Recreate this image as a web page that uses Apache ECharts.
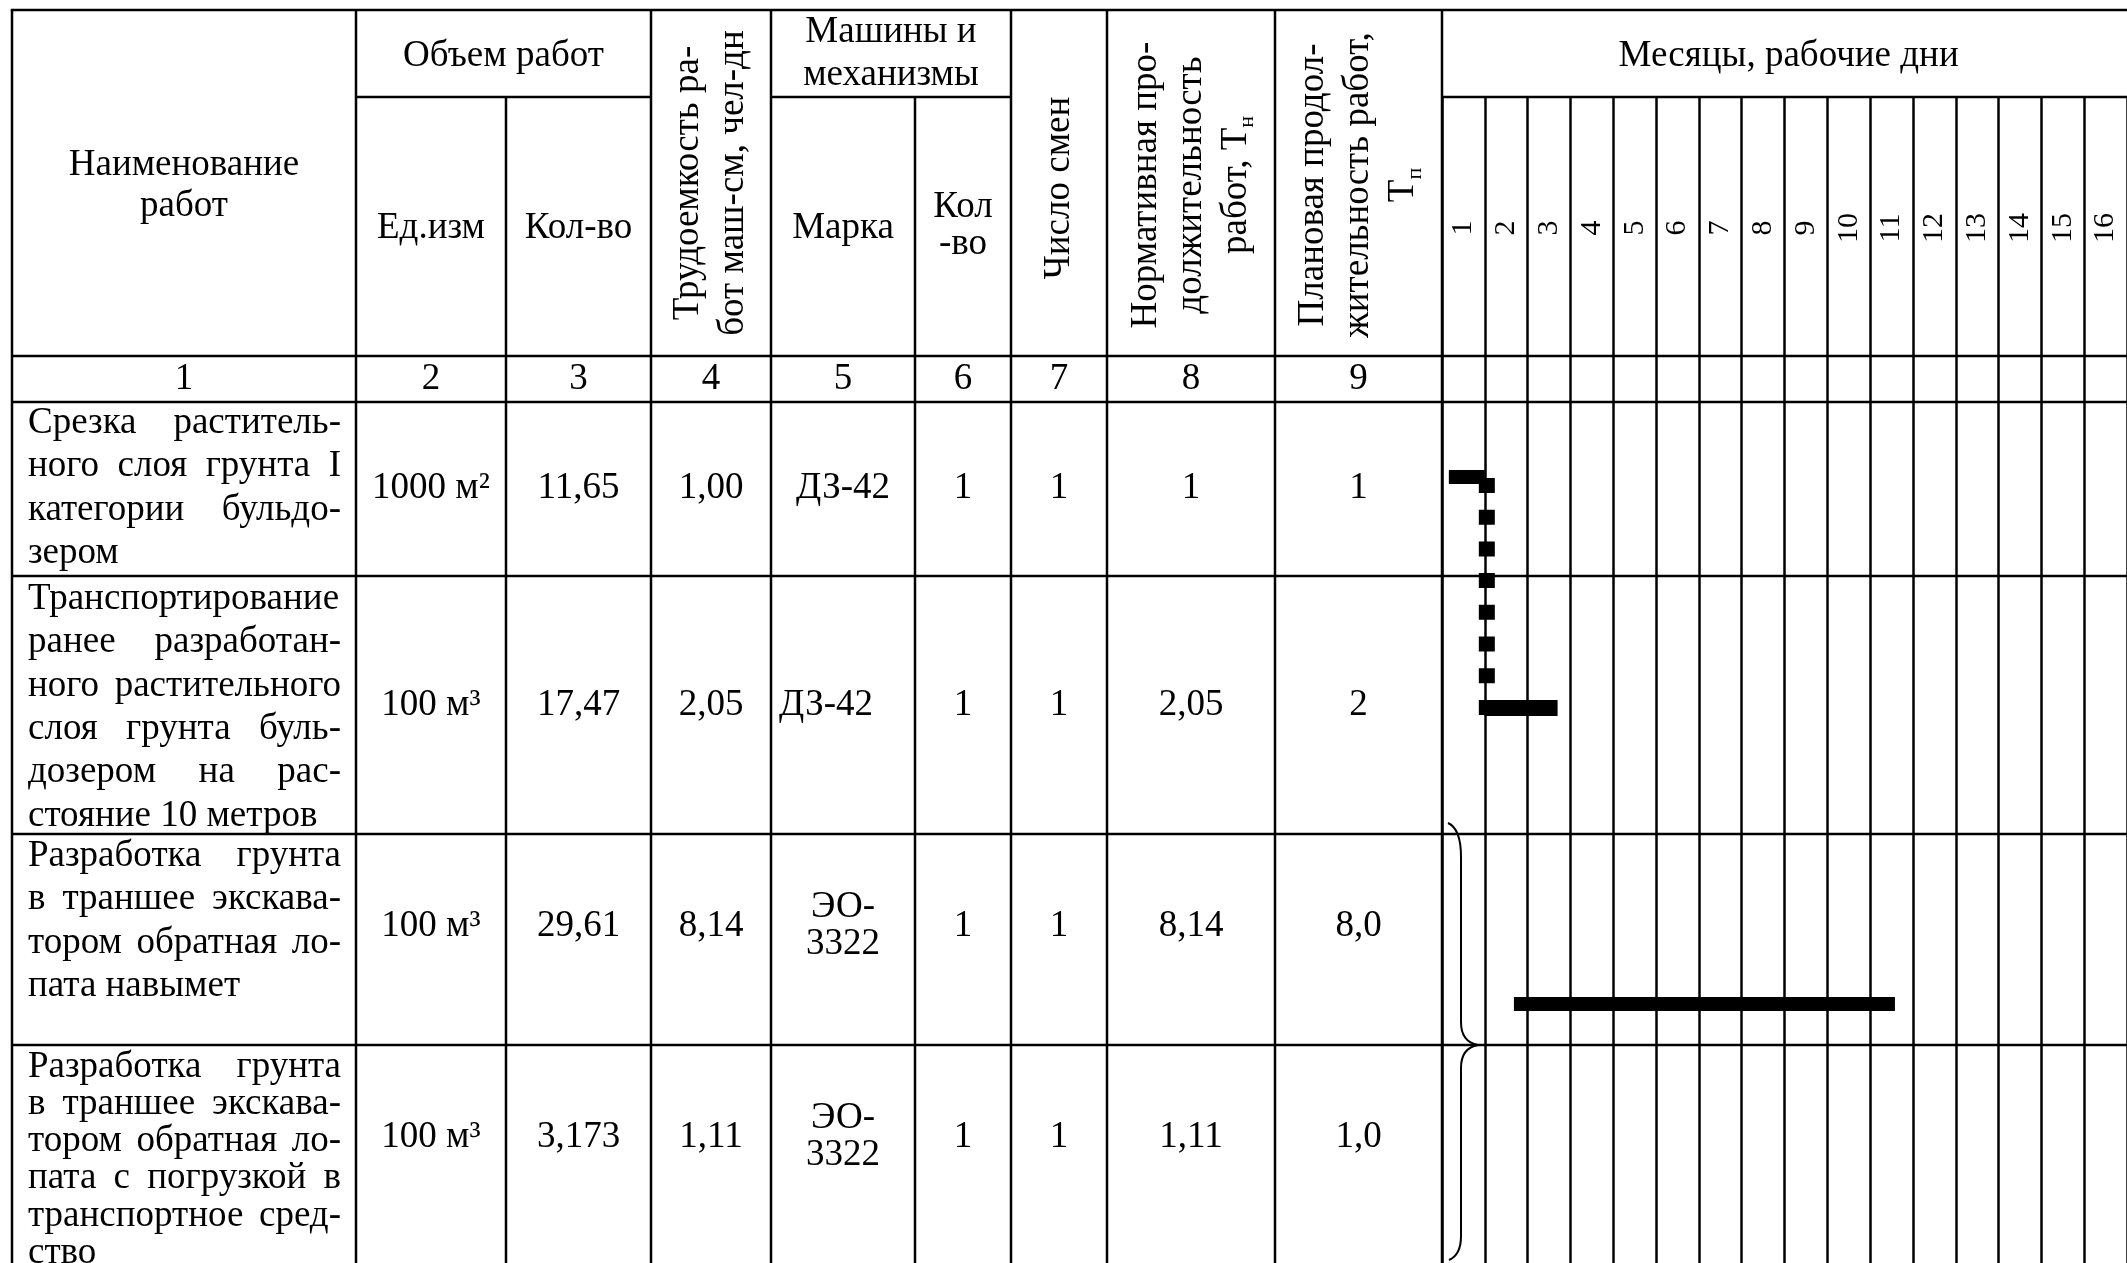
<!DOCTYPE html>
<html><head><meta charset="utf-8">
<script src="https://cdn.jsdelivr.net/npm/echarts@6/dist/echarts.min.js"></script>
<style>html,body{margin:0;padding:0;background:#fff}#c{width:2127px;height:1263px}</style>
</head><body><div id="c"></div>
<script>
// ================= DATA =================
const workNames = [
  ['Срезка раститель-', 'ного слоя грунта I', 'категории бульдо-', 'зером'],
  ['Транспортирование', 'ранее разработан-', 'ного растительного', 'слоя грунта буль-', 'дозером на рас-', 'стояние 10 метров'],
  ['Разработка грунта', 'в траншее экскава-', 'тором обратная ло-', 'пата навымет'],
  ['Разработка грунта', 'в траншее экскава-', 'тором обратная ло-', 'пата с погрузкой в', 'транспортное сред-', 'ство']
];
const units = ['1000 м²', '100 м³', '100 м³', '100 м³'];
const quantities = ['11,65', '17,47', '29,61', '3,173'];
const laborIntensity = ['1,00', '2,05', '8,14', '1,11'];
const machineBrand = ['ДЗ-42', 'ДЗ-42', 'ЭО-\n3322', 'ЭО-\n3322'];
const machineCount = ['1', '1', '1', '1'];
const shiftCount = ['1', '1', '1', '1'];
const normDuration = ['1', '2,05', '8,14', '1,11'];
const planDuration = ['1', '2', '8,0', '1,0'];
const columnNumbers = ['1', '2', '3', '4', '5', '6', '7', '8', '9'];
const dayLabels = ['1','2','3','4','5','6','7','8','9','10','11','12','13','14','15','16'];
// Gantt tasks (row index, start day, end day on the day scale)
const ganttRow = [0, 1, 2];
const ganttStart = [0.16, 1.0, 1.68];
const ganttEnd = [1.0, 2.7, 10.58];
// dotted link: at day, from task row to task row
const linkDay = [1.0];
const linkFrom = [0];
const linkTo = [1];

// ================= LAYOUT =================
const FONT = '"Liberation Serif", "Times New Roman", serif';
const FS = 37;
const LW = 2.5;
const colX = [12, 356, 506, 651, 771, 915, 1011, 1107, 1275, 1442];
const yTop = 10, ySub = 97, yHead = 356, yNum = 402;
const rowTop = [402, 576, 834, 1045];
const tableBottom = 1263;
const valueCenterY = [488, 705, 926, 1137];
const nameFirst = [423, 599, 856, 1067];
const nameGap = [43.4, 43.4, 43.4, 37.2];
const nameX0 = 28, nameX1 = 341;
const brandShift = [0, -17, 0, 0];
const barCenterY = [477, 708, 1004];
const barH = [14, 16, 14];
const gridLeft = 1442, dayW = 43.33, nDays = 16;
const gridH = tableBottom - ySub;

const chart = echarts.init(document.getElementById('c'), null, {renderer: 'canvas'});

function barRender(params, api) {
  const r = api.value(0);
  const yc = barCenterY[r] - ySub;
  const p0 = api.coord([api.value(1), yc]);
  const p1 = api.coord([api.value(2), yc]);
  const h = barH[r];
  return {type: 'rect', shape: {x: p0[0], y: p0[1] - h / 2, width: p1[0] - p0[0], height: h}, style: {fill: '#000'}};
}
function linkRender(params, api) {
  const t = api.value(0), a = api.value(1), b = api.value(2);
  const p0 = api.coord([t, barCenterY[a] + 1 - ySub]);
  const p1 = api.coord([t, barCenterY[b] + barH[b] / 2 - ySub]);
  return {type: 'line', shape: {x1: p0[0] + 2, y1: p0[1], x2: p1[0] + 2, y2: p1[1]},
    style: {stroke: '#000', lineWidth: 16, lineDash: [15, 16.7], lineCap: 'butt'}};
}

chart.setOption({
  animation: false,
  backgroundColor: '#fff',
  grid: {left: gridLeft, top: ySub, width: dayW * nDays, height: gridH, show: false},
  xAxis: {type: 'value', min: 0, max: nDays, interval: 1,
    axisLine: {show: false}, axisTick: {show: false}, axisLabel: {show: false},
    splitLine: {show: true, lineStyle: {color: '#000', width: LW}}},
  yAxis: {type: 'value', min: 0, max: gridH, inverse: true,
    axisLine: {show: false}, axisTick: {show: false}, axisLabel: {show: false}, splitLine: {show: false}},
  series: [
    {type: 'custom', renderItem: barRender, z: 5,
      data: ganttRow.map((r, i) => [r, ganttStart[i], ganttEnd[i]])},
    {type: 'custom', renderItem: linkRender, z: 5,
      data: linkDay.map((d, i) => [d, linkFrom[i], linkTo[i]])}
  ]
});

// ================= GRAPHIC (table) =================
const els = [];
function line(x1, y1, x2, y2, w) {
  els.push({type: 'line', shape: {x1, y1, x2, y2}, style: {stroke: '#000', lineWidth: w || LW}, z: 10});
}
function text(x, y, t, opt) {
  opt = opt || {};
  els.push({type: 'text', x, y, rotation: opt.rot || 0, z: 11,
    style: {text: t, fontSize: opt.fs || FS, fontFamily: FONT, fill: '#000',
      align: opt.align || 'center', verticalAlign: 'middle', lineHeight: opt.lh || 43,
      rich: opt.rich}});
}
// horizontal lines
line(colX[0] - LW / 2, yTop, 2127, yTop);
line(colX[1], ySub, colX[3], ySub);
line(colX[4], ySub, colX[6], ySub);
line(colX[9], ySub, 2127, ySub);
[yHead, yNum, rowTop[1], rowTop[2], rowTop[3]].forEach(y => line(colX[0], y, 2127, y));
// vertical lines
colX.forEach((x, i) => {
  const y0 = (i === 2 || i === 5) ? ySub : yTop;
  line(x, y0, x, tableBottom);
});

// header texts
const cx = i => (colX[i] + colX[i + 1]) / 2;
text(cx(0), 186, 'Наименование\nработ', {lh: 41});
text((colX[1] + colX[3]) / 2, 56, 'Объем работ');
text(cx(1), 228, 'Ед.изм');
text(cx(2), 228, 'Кол-во');
text(cx(3), 183, 'Трудоемкость ра-\nбот маш-см, чел-дн', {rot: Math.PI / 2, lh: 45});
text((colX[4] + colX[6]) / 2, 54, 'Машины и\nмеханизмы', {lh: 43});
text(cx(4), 228, 'Марка');
text(cx(5), 226, 'Кол\n-во', {lh: 37});
text(cx(6), 188, 'Число смен', {rot: Math.PI / 2});
const rich = {a: {fontSize: FS, fontFamily: FONT, lineHeight: 45}, s: {fontSize: 22, fontFamily: FONT, lineHeight: 45, verticalAlign: 'bottom'}};
text(cx(7), 185, '{a|Нормативная про-}\n{a|должительность}\n{a|работ, Т}{s|н}', {rot: Math.PI / 2, lh: 45, rich});
text(cx(8), 185, '{a|Плановая продол-}\n{a|жительность работ,}\n{a|Т}{s|п}', {rot: Math.PI / 2, lh: 45, rich});
text(gridLeft + dayW * nDays / 2, 56, 'Месяцы, рабочие дни');
// day labels through the x scale
dayLabels.forEach((d, i) => {
  const px = chart.convertToPixel({xAxisIndex: 0}, i + 0.5);
  text(px, 228, d, {rot: Math.PI / 2, fs: 30});
});
// numbering row
columnNumbers.forEach((n, i) => text(cx(i), (yHead + yNum) / 2, n));

// justified names
const mctx = document.createElement('canvas').getContext('2d');
mctx.font = FS + 'px ' + FONT;
workNames.forEach((lines, r) => {
  lines.forEach((ln, k) => {
    const y = nameFirst[r] + nameGap[r] * k;
    const words = ln.split(' ');
    const last = k === lines.length - 1;
    if (last || words.length < 2) { text(nameX0, y, ln, {align: 'left'}); return; }
    const ws = words.map(w => mctx.measureText(w).width);
    const gap = (nameX1 - nameX0 - ws.reduce((a, b) => a + b, 0)) / (words.length - 1);
    let x = nameX0;
    words.forEach((w, j) => { text(x, y, w, {align: 'left'}); x += ws[j] + gap; });
  });
});
// values
const cols = [units, quantities, laborIntensity, machineBrand, machineCount, shiftCount, normDuration, planDuration];
cols.forEach((arr, c) => {
  arr.forEach((v, r) => {
    const shift = c === 3 ? brandShift[r] : 0;
    text(cx(c + 1) + shift, valueCenterY[r], v, {lh: 37});
  });
});
// brace spanning rows 3-4
function curve(x1, y1, cpx1, cpy1, cpx2, cpy2, x2, y2) {
  els.push({type: 'bezierCurve', z: 11, shape: {x1, y1, cpx1, cpy1, cpx2, cpy2, x2, y2},
    style: {stroke: '#000', lineWidth: 2, fill: null}});
}
curve(1448, 823, 1457, 827, 1461, 840, 1461, 857);
line(1461, 857, 1461, 1022, 2);
curve(1461, 1022, 1461, 1036, 1467, 1043, 1478, 1045);
curve(1478, 1045, 1467, 1047, 1461, 1054, 1461, 1068);
line(1461, 1068, 1461, 1236, 2);
curve(1461, 1236, 1461, 1250, 1456, 1257, 1449, 1260);

chart.setOption({graphic: {elements: els}});
</script>
</body></html>
